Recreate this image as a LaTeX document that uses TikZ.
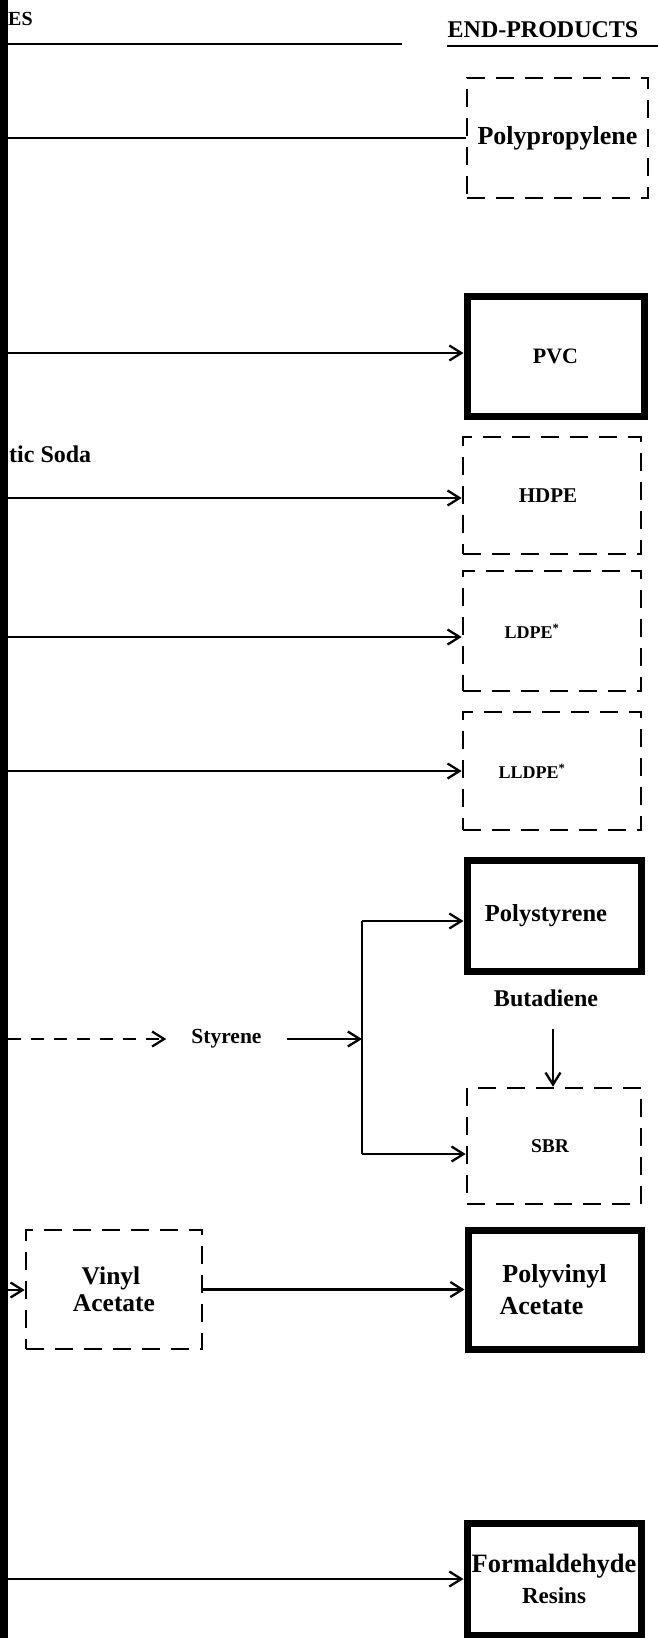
\documentclass[tikz,border=0pt]{standalone}
\usepackage{fontspec}
\setmainfont{Liberation Serif}
\usetikzlibrary{arrows.meta}
\newcommand{\fsz}[1]{\fontsize{#1}{#1}\selectfont\bfseries}
\begin{document}
\begin{tikzpicture}[x=1pt,y=-1pt,
  lbl/.style={font=\fsz{24}, inner sep=0pt},
  dbox/.style={draw, line width=2.6pt, dash pattern=on 18pt off 11pt, inner sep=0pt, align=center},
  tbox/.style={draw, line width=7pt, inner sep=0pt, align=center},
  conn/.style={line width=2.3pt, -{Straight Barb[length=12pt,width=15pt,line width=2.3pt]}},
  plain/.style={line width=2.3pt}
]
\useasboundingbox (0,0) rectangle (658,1638);
\fill[white] (0,0) rectangle (658,1638);

% header
\node[font=\fsz{20}, inner sep=0pt, anchor=west] (es) at (8,19) {ES};
\node[lbl] (endp) at (543,30) {END-PRODUCTS};
\coordinate (hl1) at (8,44);
\coordinate (hl2) at (402,44);
\coordinate (hr1) at (447,46);
\coordinate (hr2) at (658,46);
\draw[plain] (hl1) -- (hl2);
\draw[plain] (hr1) -- (hr2);

% end-product boxes
\node[dbox, font=\fsz{26}, minimum width=181pt, minimum height=120pt] (pp) at (557.5,138) {Polypropylene};
\node[tbox, font=\fsz{22}, minimum width=177pt, minimum height=120pt] (pvc) at (555.5,356) {PVC};
\node[dbox, font=\fsz{21}, minimum width=178pt, minimum height=117pt] (hdpe) at (552,495.5) {HDPE\hspace*{8pt}};
\node[dbox, font=\fsz{18}, minimum width=178pt, minimum height=120pt] (ldpe) at (552,631) {LDPE\textsuperscript{*}\hspace*{40pt}};
\node[dbox, font=\fsz{18}, minimum width=178pt, minimum height=118pt] (lldpe) at (552,771) {LLDPE\textsuperscript{*}\hspace*{40pt}};
\node[tbox, font=\fsz{24.5}, minimum width=174pt, minimum height=111pt] (ps) at (554,915.5) {Polystyrene\hspace*{16pt}};
\node[dbox, font=\fsz{19.5}, minimum width=174pt, minimum height=116pt] (sbr) at (554,1146) {SBR\hspace*{8pt}};
\node[dbox, font=\fsz{25.5}, minimum width=176pt, minimum height=119pt] (va) at (114,1289.5) {Vinyl\hspace*{6pt}\\[2pt]Acetate};
\node[tbox, font=\fsz{26}, minimum width=173pt, minimum height=119pt] (pva) at (554.5,1289.5) {Polyvinyl\\[6pt]Acetate\hspace*{26pt}};
\node[tbox, font=\fsz{26.5}, minimum width=174pt, minimum height=112pt] (fr) at (554,1579) {Formaldehyde\\[4pt]{\fsz{23}Resins}};

% labels
\node[lbl, anchor=west] (soda) at (9,454) {tic Soda};
\node[font=\fsz{21.5}, inner ysep=0pt, inner xsep=25pt] (sty) at (226.5,1039) {Styrene};
\node[lbl] (bd) at (546,998) {Butadiene};

% bar coordinates
\coordinate (b1) at (8,138);
\coordinate (b2) at (8,353);
\coordinate (b3) at (8,498);
\coordinate (b4) at (8,637);
\coordinate (b5) at (8,771);
\coordinate (b7) at (8,1039);
\coordinate (b9) at (8,1290);
\coordinate (b10) at (8,1579);
\coordinate (jt) at (362,921);
\coordinate (jm) at (362,1039);
\coordinate (jb) at (362,1154);
\coordinate (bda) at (553,1029);

% connectors
\draw[plain] (b1) -- (b1 -| pp.west);
\draw[conn] (b2) -- (b2 -| pvc.west);
\draw[conn] (b3) -- (b3 -| hdpe.west);
\draw[conn] (b4) -- (b4 -| ldpe.west);
\draw[conn] (b5) -- (b5 -| lldpe.west);
\draw[conn, dash pattern=on 13pt off 10pt] (b7) -- (b7 -| sty.west);
\draw[conn] (sty.east |- jm) -- (jm);
\draw[plain] (jt) -- (jb);
\draw[conn] (jt) -- (jt -| ps.west);
\draw[conn] (jb) -- (jb -| sbr.west);
\draw[conn] (bda) -- (bda |- sbr.north);
\draw[conn] (b9) -- (b9 -| va.west);
\draw[conn] (va.east) -- (va.east -| pva.west);
\draw[conn] (b10) -- (b10 -| fr.west);

% left bar
\fill[black] (0,0) rectangle (8,1638);
\end{tikzpicture}
\end{document}
